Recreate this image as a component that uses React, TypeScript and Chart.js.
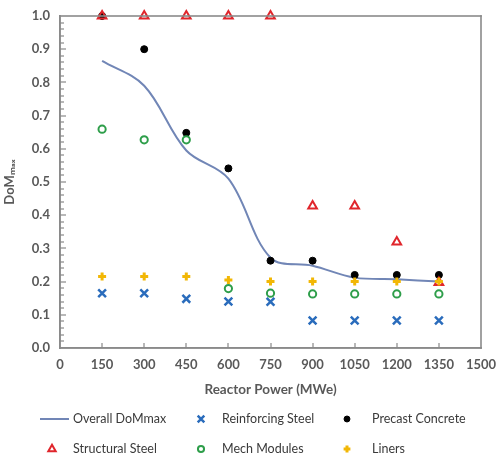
import React, { useEffect, useRef } from 'react';
import { Chart, registerables } from 'chart.js';
import { drawPoint } from 'chart.js/helpers';

Chart.register(...registerables);

const powers = [150, 300, 450, 600, 750, 900, 1050, 1200, 1350];
const overall = [0.865, 0.79, 0.595, 0.51, 0.272, 0.248, 0.212, 0.207, 0.2];
const reinforcing = [0.165, 0.165, 0.148, 0.14, 0.139, 0.083, 0.083, 0.083, 0.083];
const precast = [1.0, 0.9, 0.648, 0.541, 0.263, 0.263, 0.22, 0.22, 0.22];
const structural = [1.0, 1.0, 1.0, 1.0, 1.0, 0.428, 0.428, 0.319, 0.197];
const mech = [0.659, 0.627, 0.627, 0.179, 0.165, 0.163, 0.163, 0.163, 0.163];
const liners = [0.215, 0.215, 0.215, 0.205, 0.2, 0.2, 0.2, 0.2, 0.2];
const seriesNames = [
  'Overall DoMmax',
  'Reinforcing Steel',
  'Precast Concrete',
  'Structural Steel',
  'Mech Modules',
  'Liners',
];
const xTickStep = 150;
const yMinorStep = 0.02;

const FONT = 'Lato, "Open Sans", "DejaVu Sans", sans-serif';
const TXT = '#595959';

const pts = (vals: number[]) => vals.map((v, i) => ({ x: powers[i], y: v }));

function drawFrame(chart: any) {
  const { ctx, chartArea, scales } = chart;
  if (!chartArea || !scales.x || !scales.y) return;
  const { left, right, top, bottom } = chartArea;
  const x = scales.x;
  const y = scales.y;
  const w = 1.6;
  ctx.save();
  ctx.globalAlpha = 1;
  ctx.globalCompositeOperation = 'source-over';
  ctx.fillStyle = 'rgb(138, 138, 138)';
  ctx.fillRect(left - w / 2, top - w / 2, right - left + w, w);
  ctx.fillRect(left - w / 2, bottom - w / 2, right - left + w, w);
  ctx.fillRect(left - w / 2, top - w / 2, w, bottom - top + w);
  ctx.fillRect(right - w / 2, top - w / 2, w, bottom - top + w);
  const n = Math.round(1 / yMinorStep);
  for (let i = 1; i < n; i++) {
    const py = Math.round(y.getPixelForValue(i / n));
    const len = i % 5 === 0 ? 6 : 4;
    ctx.fillRect(left, py - 0.6, len, 1.2);
  }
  for (let v = xTickStep; v < 1500; v += xTickStep) {
    const px = Math.round(x.getPixelForValue(v));
    ctx.fillRect(px - 0.6, bottom - 5, 1.2, 5);
  }
  ctx.restore();
}

function drawLegend(chart: any) {
  const { ctx } = chart;
  const ds = chart.data.datasets;
  const markerX = [52, 201, 347];
  const textX = [73, 222, 372];
  const rowY = [419, 449];
  ctx.save();
  ctx.font = `12.5px ${FONT}`;
  ctx.textBaseline = 'middle';
  ctx.textAlign = 'left';
  ds.forEach((d: any, i: number) => {
    const col = i % 3;
    const row = Math.floor(i / 3);
    const cy = rowY[row];
    if (d.showLine) {
      ctx.fillStyle = d.borderColor;
      ctx.fillRect(40, cy - 1, 29, 2);
    } else {
      ctx.strokeStyle = d.pointBorderColor;
      ctx.fillStyle = d.pointBackgroundColor;
      ctx.lineWidth = d.pointBorderWidth;
      drawPoint(
        ctx,
        {
          pointStyle: d.pointStyle,
          radius: d.pointRadius * 0.85,
          borderWidth: d.pointBorderWidth,
          rotation: 0,
        },
        markerX[col],
        cy
      );
    }
    ctx.fillStyle = '#3a3a3a';
    ctx.fillText(d.label, textX[col], cy);
  });
  ctx.restore();
}

const overlayPlugin = {
  id: 'frameAndLegend',
  afterDraw(chart: any) {
    drawFrame(chart);
    drawLegend(chart);
  },
};

export default function App() {
  const ref = useRef<HTMLCanvasElement | null>(null);
  useEffect(() => {
    document.body.style.margin = '0';
    if (!ref.current) return;
    const scatter = (
      label: string,
      vals: number[],
      style: string,
      color: string,
      fill: string,
      radius: number,
      bw: number,
      order: number
    ) => ({
      label,
      data: pts(vals),
      showLine: false,
      pointStyle: style,
      pointRadius: radius,
      pointHoverRadius: radius,
      pointBorderWidth: bw,
      pointBorderColor: color,
      pointBackgroundColor: fill,
      borderColor: color,
      backgroundColor: fill,
      order,
      clip: false,
    });
    const chart = new Chart(ref.current, {
      type: 'scatter',
      data: {
        datasets: [
          {
            label: seriesNames[0],
            data: pts(overall),
            showLine: true,
            borderColor: '#7186b6',
            borderWidth: 2,
            pointRadius: 0,
            tension: 0.35,
            fill: false,
            order: 6,
          } as any,
          scatter(seriesNames[1], reinforcing, 'crossRot', '#2a6cbc', '#2a6cbc', 5.5, 2.5, 5),
          scatter(seriesNames[2], precast, 'circle', '#000000', '#000000', 3.5, 1, 4),
          scatter(seriesNames[3], structural, 'triangle', '#e0262c', 'rgba(0,0,0,0)', 5, 2, 3),
          scatter(seriesNames[4], mech, 'circle', '#2e9e4a', 'rgba(0,0,0,0)', 3.6, 2, 2),
          scatter(seriesNames[5], liners, 'cross', '#f2b705', '#f2b705', 4, 3, 1),
        ],
      },
      options: {
        responsive: false,
        animation: false,
        layout: { padding: { top: 16, right: 15, left: 0, bottom: 65 } },
        plugins: {
          legend: { display: false },
          tooltip: { enabled: false },
        },
        scales: {
          x: {
            type: 'linear',
            min: 0,
            max: 1500,
            afterFit: (s: any) => {
              s.height = 56;
              s.paddingLeft = 0;
              s.paddingRight = 0;
            },
            ticks: {
              stepSize: xTickStep,
              color: TXT,
              padding: 9,
              callback: (v: any) => String(v),
              font: { family: FONT, size: 13, weight: 'bold' },
            },
            grid: { display: false, drawTicks: false },
            border: { display: true, color: 'rgb(138, 138, 138)', width: 1.6 },
            title: {
              display: true,
              text: 'Reactor Power (MWe)',
              color: TXT,
              padding: { top: 0, bottom: 6 },
              font: { family: FONT, size: 13.5, weight: 'bold' },
            },
          },
          y: {
            type: 'linear',
            min: 0,
            max: 1,
            afterFit: (s: any) => {
              s.width = 60;
              s.paddingTop = 0;
              s.paddingBottom = 0;
            },
            ticks: {
              stepSize: 0.1,
              color: TXT,
              padding: 10,
              callback: (v: any) => Number(v).toFixed(1),
              font: { family: FONT, size: 13, weight: 'bold' },
            },
            grid: { display: false, drawTicks: false },
            border: { display: true, color: 'rgb(138, 138, 138)', width: 1.6 },
            title: {
              display: true,
              text: 'DoMₘₐₓ',
              color: TXT,
              padding: { top: 2, bottom: 0 },
              font: { family: FONT, size: 13, weight: 'bold' },
            },
          },
        },
      },
      plugins: [overlayPlugin],
    } as any);
    return () => chart.destroy();
  }, []);
  return (
    <div style={{ width: 496, height: 469, background: '#fff' }}>
      <canvas ref={ref} width={496} height={469} />
    </div>
  );
}
